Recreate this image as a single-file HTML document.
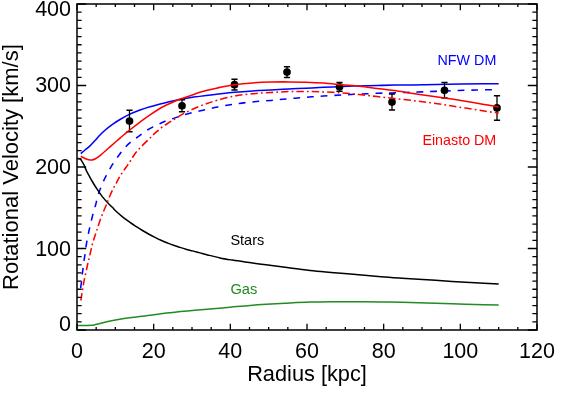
<!DOCTYPE html>
<html><head><meta charset="utf-8"><title>Rotation curve</title>
<style>html,body{margin:0;padding:0;background:#fff}svg{display:block}text{font-family:"Liberation Sans",Arial,Helvetica,sans-serif;}</style></head>
<body>
<svg width="568" height="394" viewBox="0 0 568 394">
<rect width="568" height="394" fill="#fff"/>
<g fill="none" stroke-linecap="butt" stroke-linejoin="round">
<path d="M80.60 288.10 C80.75 287.07 81.22 284.18 81.50 281.90 C81.78 279.62 81.98 276.70 82.25 274.40 C82.52 272.10 82.81 270.40 83.10 268.10 C83.39 265.80 83.68 262.88 84.00 260.60 C84.32 258.32 84.70 256.48 85.00 254.40 C85.30 252.32 85.48 250.29 85.80 248.10 C86.12 245.91 86.41 243.95 86.90 241.25 C87.39 238.55 88.13 234.82 88.75 231.90 C89.37 228.98 89.88 226.78 90.60 223.75 C91.32 220.72 92.27 216.88 93.10 213.75 C93.93 210.62 95.00 207.19 95.60 205.00 C96.20 202.81 96.17 202.58 96.70 200.60 C97.23 198.62 98.10 195.18 98.75 193.10 C99.40 191.02 99.77 190.18 100.60 188.10 C101.43 186.02 102.81 182.68 103.75 180.60 C104.69 178.52 105.21 177.57 106.25 175.60 C107.29 173.62 108.86 170.77 110.00 168.75 C111.14 166.73 111.43 166.00 113.10 163.50 C114.77 161.00 117.81 156.62 120.00 153.75 C122.19 150.88 124.38 148.28 126.25 146.25 C128.12 144.22 129.58 142.97 131.25 141.60 C132.92 140.22 134.58 139.20 136.25 138.00 C137.92 136.80 139.38 135.73 141.25 134.40 C143.12 133.07 145.53 131.25 147.50 130.00 C149.47 128.75 151.02 127.97 153.10 126.90 C155.18 125.83 158.02 124.53 160.00 123.60 C161.98 122.67 162.92 122.11 165.00 121.30 C167.08 120.49 169.65 119.73 172.50 118.75 C175.35 117.77 178.56 116.48 182.10 115.40 C185.64 114.32 189.72 113.25 193.75 112.25 C197.78 111.25 202.29 110.28 206.25 109.40 C210.21 108.53 212.78 107.90 217.50 107.00 C222.22 106.10 228.77 104.85 234.60 104.00 C240.43 103.15 246.43 102.50 252.50 101.90 C258.57 101.30 265.00 100.93 271.00 100.40 C277.00 99.88 282.67 99.28 288.50 98.75 C294.33 98.22 300.17 97.71 306.00 97.25 C311.83 96.79 317.50 96.38 323.50 96.00 C329.50 95.62 336.00 95.32 342.00 95.00 C348.00 94.68 353.50 94.39 359.50 94.10 C365.50 93.81 372.58 93.45 378.00 93.25 C383.42 93.05 387.33 93.03 392.00 92.90 C396.67 92.78 401.83 92.63 406.00 92.50 C410.17 92.37 410.00 92.37 417.00 92.10 C424.00 91.83 438.25 91.25 448.00 90.90 C457.75 90.55 467.05 90.22 475.50 90.00 C483.95 89.78 494.83 89.67 498.70 89.60" stroke="#0000ff" stroke-width="1.55" stroke-dasharray="6.8 6.9"/>
<path d="M80.80 153.60 C81.50 153.00 83.47 151.28 85.00 150.00 C86.53 148.72 88.33 147.47 90.00 145.90 C91.67 144.33 93.33 142.42 95.00 140.60 C96.67 138.78 98.33 136.72 100.00 135.00 C101.67 133.28 102.92 132.02 105.00 130.25 C107.08 128.48 110.00 126.19 112.50 124.40 C115.00 122.61 117.18 121.17 120.00 119.50 C122.82 117.83 126.07 115.98 129.40 114.40 C132.73 112.82 136.57 111.28 140.00 110.00 C143.43 108.72 146.25 107.80 150.00 106.70 C153.75 105.60 158.33 104.45 162.50 103.40 C166.67 102.35 171.73 101.13 175.00 100.40 C178.27 99.67 178.97 99.55 182.10 99.00 C185.22 98.45 189.72 97.70 193.75 97.10 C197.78 96.50 202.29 95.90 206.25 95.40 C210.21 94.90 212.78 94.62 217.50 94.10 C222.22 93.57 228.77 92.78 234.60 92.25 C240.43 91.72 246.43 91.29 252.50 90.90 C258.57 90.51 265.00 90.22 271.00 89.90 C277.00 89.58 282.67 89.28 288.50 89.00 C294.33 88.72 300.17 88.48 306.00 88.20 C311.83 87.92 317.50 87.62 323.50 87.35 C329.50 87.08 336.00 86.84 342.00 86.60 C348.00 86.36 353.67 86.08 359.50 85.90 C365.33 85.72 371.17 85.63 377.00 85.50 C382.83 85.37 388.50 85.20 394.50 85.10 C400.50 85.00 404.08 85.05 413.00 84.90 C421.92 84.75 436.17 84.38 448.00 84.20 C459.83 84.02 475.55 83.88 484.00 83.80 C492.45 83.72 496.25 83.72 498.70 83.70" stroke="#0000ff" stroke-width="1.55"/>
</g>
<g stroke="#000" fill="#000">
<path d="M129.50 110.30V131.80" stroke-width="1.3" fill="none"/>
<path d="M126.40 110.30H132.60M126.40 131.80H132.60" stroke-width="1.5" fill="none"/>
<circle cx="129.50" cy="121.05" r="3.85" stroke="none"/>
<path d="M182.00 99.75V111.80" stroke-width="1.3" fill="none"/>
<path d="M178.90 99.75H185.10M178.90 111.80H185.10" stroke-width="1.5" fill="none"/>
<circle cx="182.00" cy="105.80" r="3.85" stroke="none"/>
<path d="M234.50 79.20V89.95" stroke-width="1.3" fill="none"/>
<path d="M231.40 79.20H237.60M231.40 89.95H237.60" stroke-width="1.5" fill="none"/>
<circle cx="234.50" cy="84.65" r="3.85" stroke="none"/>
<path d="M287.00 66.80V77.40" stroke-width="1.3" fill="none"/>
<path d="M283.90 66.80H290.10M283.90 77.40H290.10" stroke-width="1.5" fill="none"/>
<circle cx="287.00" cy="72.10" r="3.85" stroke="none"/>
<path d="M339.50 82.40V91.30" stroke-width="1.3" fill="none"/>
<path d="M336.40 82.40H342.60M336.40 91.30H342.60" stroke-width="1.5" fill="none"/>
<circle cx="339.50" cy="86.85" r="3.85" stroke="none"/>
<path d="M392.00 94.00V110.00" stroke-width="1.3" fill="none"/>
<path d="M388.90 94.00H395.10M388.90 110.00H395.10" stroke-width="1.5" fill="none"/>
<circle cx="392.00" cy="102.10" r="3.85" stroke="none"/>
<path d="M444.50 82.50V97.90" stroke-width="1.3" fill="none"/>
<path d="M441.40 82.50H447.60M441.40 97.90H447.60" stroke-width="1.5" fill="none"/>
<circle cx="444.50" cy="90.30" r="3.85" stroke="none"/>
<path d="M497.00 95.70V120.20" stroke-width="1.3" fill="none"/>
<path d="M493.90 95.70H500.10M493.90 120.20H500.10" stroke-width="1.5" fill="none"/>
<circle cx="497.00" cy="107.90" r="3.85" stroke="none"/>
</g>
<g fill="none" stroke-linecap="butt" stroke-linejoin="round">
<path d="M78.00 158.30 C78.35 158.40 79.43 158.40 80.10 158.90 C80.77 159.40 81.33 160.25 82.00 161.30 C82.67 162.35 83.37 163.53 84.15 165.20 C84.93 166.87 85.86 169.52 86.70 171.30 C87.54 173.08 88.27 174.20 89.20 175.90 C90.13 177.60 90.93 179.20 92.30 181.50 C93.67 183.80 95.70 187.13 97.40 189.70 C99.10 192.27 100.82 194.77 102.50 196.90 C104.18 199.03 105.73 200.63 107.50 202.50 C109.27 204.37 111.85 206.80 113.10 208.10 C114.35 209.40 113.43 208.83 115.00 210.30 C116.57 211.77 120.00 214.88 122.50 216.90 C125.00 218.92 127.75 220.82 130.00 222.40 C132.25 223.98 133.92 225.05 136.00 226.40 C138.08 227.75 140.42 229.23 142.50 230.50 C144.58 231.77 146.42 232.85 148.50 234.00 C150.58 235.15 152.92 236.35 155.00 237.40 C157.08 238.45 158.92 239.37 161.00 240.30 C163.08 241.23 165.42 242.17 167.50 243.00 C169.58 243.83 171.42 244.57 173.50 245.30 C175.58 246.03 177.92 246.75 180.00 247.40 C182.08 248.05 183.92 248.62 186.00 249.20 C188.08 249.78 190.17 250.28 192.50 250.90 C194.83 251.52 197.50 252.23 200.00 252.90 C202.50 253.57 204.17 254.07 207.50 254.90 C210.83 255.73 215.83 257.03 220.00 257.90 C224.17 258.77 228.33 259.42 232.50 260.10 C236.67 260.78 240.83 261.39 245.00 262.00 C249.17 262.61 254.00 263.28 257.50 263.75 C261.00 264.22 261.42 264.21 266.00 264.80 C270.58 265.39 277.67 266.37 285.00 267.30 C292.33 268.23 302.33 269.55 310.00 270.40 C317.67 271.25 323.33 271.70 331.00 272.40 C338.67 273.10 347.67 273.88 356.00 274.60 C364.33 275.33 373.33 276.15 381.00 276.75 C388.67 277.35 394.33 277.70 402.00 278.20 C409.67 278.70 418.67 279.22 427.00 279.75 C435.33 280.28 444.00 280.90 452.00 281.40 C460.00 281.90 467.22 282.32 475.00 282.75 C482.78 283.18 494.75 283.79 498.70 284.00" stroke="#000" stroke-width="1.5"/>
<path d="M77.10 325.40 C78.42 325.40 82.60 325.41 85.00 325.40 C87.40 325.39 89.92 325.43 91.50 325.35 C93.08 325.27 93.25 325.17 94.50 324.90 C95.75 324.63 97.25 324.18 99.00 323.75 C100.75 323.32 102.92 322.80 105.00 322.30 C107.08 321.80 108.33 321.38 111.50 320.75 C114.67 320.12 119.83 319.14 124.00 318.50 C128.17 317.86 133.00 317.33 136.50 316.90 C140.00 316.47 139.42 316.59 145.00 315.90 C150.58 315.21 161.67 313.68 170.00 312.75 C178.33 311.82 185.83 311.13 195.00 310.30 C204.17 309.47 215.83 308.57 225.00 307.75 C234.17 306.93 242.33 306.04 250.00 305.40 C257.67 304.76 265.17 304.27 271.00 303.90 C276.83 303.53 278.50 303.50 285.00 303.20 C291.50 302.90 302.33 302.35 310.00 302.10 C317.67 301.85 323.33 301.76 331.00 301.70 C338.67 301.64 347.67 301.70 356.00 301.75 C364.33 301.80 373.33 301.93 381.00 302.00 C388.67 302.07 394.33 302.05 402.00 302.20 C409.67 302.35 418.67 302.65 427.00 302.90 C435.33 303.15 444.00 303.44 452.00 303.70 C460.00 303.96 467.22 304.22 475.00 304.45 C482.78 304.68 494.75 304.99 498.70 305.10" stroke="#228B22" stroke-width="1.5"/>
<path d="M80.80 300.50 C80.88 300.10 80.97 299.85 81.25 298.10 C81.53 296.35 82.08 292.60 82.50 290.00 C82.92 287.40 83.23 285.21 83.75 282.50 C84.27 279.79 84.97 276.67 85.60 273.75 C86.22 270.83 86.88 267.71 87.50 265.00 C88.12 262.29 88.72 260.00 89.30 257.50 C89.88 255.00 90.55 251.98 91.00 250.00 C91.45 248.02 91.43 247.68 92.00 245.60 C92.57 243.52 93.58 240.10 94.40 237.50 C95.22 234.90 95.97 232.82 96.90 230.00 C97.83 227.18 98.97 223.52 100.00 220.60 C101.03 217.68 102.06 215.10 103.10 212.50 C104.14 209.90 105.52 206.77 106.25 205.00 C106.98 203.23 106.92 203.36 107.50 201.90 C108.08 200.44 108.82 198.44 109.75 196.25 C110.68 194.06 112.02 190.94 113.10 188.75 C114.18 186.56 115.10 185.18 116.25 183.10 C117.40 181.02 118.75 178.33 120.00 176.25 C121.25 174.17 122.40 172.57 123.75 170.60 C125.10 168.62 126.89 166.17 128.10 164.40 C129.31 162.63 129.85 161.77 131.00 160.00 C132.15 158.23 133.33 155.98 135.00 153.80 C136.67 151.62 138.40 149.62 141.00 146.90 C143.60 144.18 148.27 139.80 150.60 137.50 C152.93 135.20 153.64 134.35 155.00 133.10 C156.36 131.85 157.50 131.03 158.75 130.00 C160.00 128.97 161.04 127.98 162.50 126.90 C163.96 125.82 165.83 124.58 167.50 123.50 C169.17 122.42 171.08 121.27 172.50 120.40 C173.92 119.53 174.40 119.30 176.00 118.30 C177.60 117.30 179.14 115.99 182.10 114.40 C185.06 112.81 189.72 110.53 193.75 108.75 C197.78 106.97 202.29 105.17 206.25 103.75 C210.21 102.33 212.78 101.49 217.50 100.20 C222.22 98.91 228.77 97.08 234.60 96.00 C240.43 94.92 246.43 94.33 252.50 93.75 C258.57 93.17 265.00 92.86 271.00 92.50 C277.00 92.14 282.67 91.77 288.50 91.60 C294.33 91.43 300.17 91.45 306.00 91.50 C311.83 91.55 317.50 91.67 323.50 91.90 C329.50 92.13 336.00 92.45 342.00 92.90 C348.00 93.35 353.67 93.98 359.50 94.60 C365.33 95.22 371.17 95.95 377.00 96.60 C382.83 97.25 388.50 97.83 394.50 98.50 C400.50 99.17 407.00 99.89 413.00 100.60 C419.00 101.31 424.67 101.95 430.50 102.75 C436.33 103.55 442.17 104.51 448.00 105.40 C453.83 106.29 459.50 107.17 465.50 108.10 C471.50 109.03 478.47 110.17 484.00 111.00 C489.53 111.83 496.25 112.75 498.70 113.10" stroke="#ff0000" stroke-width="1.55" stroke-dasharray="7.4 3.1 1.75 3.1" stroke-dashoffset="0"/>
<path d="M80.80 156.25 C81.50 156.62 83.67 157.92 85.00 158.50 C86.33 159.08 87.60 159.50 88.75 159.75 C89.90 160.00 90.86 160.12 91.90 160.00 C92.94 159.88 93.65 159.73 95.00 159.00 C96.35 158.27 98.33 156.89 100.00 155.60 C101.67 154.31 103.33 152.70 105.00 151.25 C106.67 149.80 108.33 148.36 110.00 146.90 C111.67 145.44 113.33 143.97 115.00 142.50 C116.67 141.03 118.33 139.53 120.00 138.10 C121.67 136.67 123.43 135.21 125.00 133.90 C126.57 132.59 126.90 132.22 129.40 130.25 C131.90 128.28 136.57 124.66 140.00 122.10 C143.43 119.54 146.25 117.42 150.00 114.90 C153.75 112.38 158.33 109.28 162.50 107.00 C166.67 104.72 171.73 102.63 175.00 101.20 C178.27 99.77 178.97 99.53 182.10 98.40 C185.22 97.27 189.72 95.70 193.75 94.40 C197.78 93.10 202.29 91.68 206.25 90.60 C210.21 89.52 212.78 88.88 217.50 87.90 C222.22 86.93 228.77 85.58 234.60 84.75 C240.43 83.92 246.43 83.35 252.50 82.90 C258.57 82.45 265.00 82.22 271.00 82.05 C277.00 81.88 282.67 81.87 288.50 81.90 C294.33 81.93 300.17 82.05 306.00 82.25 C311.83 82.45 317.50 82.68 323.50 83.10 C329.50 83.52 336.00 84.22 342.00 84.75 C348.00 85.28 353.67 85.64 359.50 86.25 C365.33 86.86 371.17 87.68 377.00 88.40 C382.83 89.12 388.50 89.75 394.50 90.60 C400.50 91.45 407.00 92.60 413.00 93.50 C419.00 94.40 424.67 95.17 430.50 96.00 C436.33 96.83 442.17 97.62 448.00 98.50 C453.83 99.38 459.50 100.27 465.50 101.25 C471.50 102.23 478.47 103.43 484.00 104.40 C489.53 105.38 496.25 106.65 498.70 107.10" stroke="#ff0000" stroke-width="1.55"/>
</g>
<path d="M77.00 330.00v-6.20M77.00 4.00v6.20M96.17 330.00v-3.10M96.17 4.00v3.10M115.33 330.00v-3.10M115.33 4.00v3.10M134.50 330.00v-3.10M134.50 4.00v3.10M153.67 330.00v-6.20M153.67 4.00v6.20M172.83 330.00v-3.10M172.83 4.00v3.10M192.00 330.00v-3.10M192.00 4.00v3.10M211.17 330.00v-3.10M211.17 4.00v3.10M230.33 330.00v-6.20M230.33 4.00v6.20M249.50 330.00v-3.10M249.50 4.00v3.10M268.67 330.00v-3.10M268.67 4.00v3.10M287.83 330.00v-3.10M287.83 4.00v3.10M307.00 330.00v-6.20M307.00 4.00v6.20M326.17 330.00v-3.10M326.17 4.00v3.10M345.33 330.00v-3.10M345.33 4.00v3.10M364.50 330.00v-3.10M364.50 4.00v3.10M383.67 330.00v-6.20M383.67 4.00v6.20M402.83 330.00v-3.10M402.83 4.00v3.10M422.00 330.00v-3.10M422.00 4.00v3.10M441.17 330.00v-3.10M441.17 4.00v3.10M460.33 330.00v-6.20M460.33 4.00v6.20M479.50 330.00v-3.10M479.50 4.00v3.10M498.67 330.00v-3.10M498.67 4.00v3.10M517.83 330.00v-3.10M517.83 4.00v3.10M537.00 330.00v-6.20M537.00 4.00v6.20M77.00 330.00h9.20M537.00 330.00h-9.20M77.00 321.85h4.60M537.00 321.85h-4.60M77.00 313.70h4.60M537.00 313.70h-4.60M77.00 305.55h4.60M537.00 305.55h-4.60M77.00 297.40h4.60M537.00 297.40h-4.60M77.00 289.25h4.60M537.00 289.25h-4.60M77.00 281.10h4.60M537.00 281.10h-4.60M77.00 272.95h4.60M537.00 272.95h-4.60M77.00 264.80h4.60M537.00 264.80h-4.60M77.00 256.65h4.60M537.00 256.65h-4.60M77.00 248.50h9.20M537.00 248.50h-9.20M77.00 240.35h4.60M537.00 240.35h-4.60M77.00 232.20h4.60M537.00 232.20h-4.60M77.00 224.05h4.60M537.00 224.05h-4.60M77.00 215.90h4.60M537.00 215.90h-4.60M77.00 207.75h4.60M537.00 207.75h-4.60M77.00 199.60h4.60M537.00 199.60h-4.60M77.00 191.45h4.60M537.00 191.45h-4.60M77.00 183.30h4.60M537.00 183.30h-4.60M77.00 175.15h4.60M537.00 175.15h-4.60M77.00 167.00h9.20M537.00 167.00h-9.20M77.00 158.85h4.60M537.00 158.85h-4.60M77.00 150.70h4.60M537.00 150.70h-4.60M77.00 142.55h4.60M537.00 142.55h-4.60M77.00 134.40h4.60M537.00 134.40h-4.60M77.00 126.25h4.60M537.00 126.25h-4.60M77.00 118.10h4.60M537.00 118.10h-4.60M77.00 109.95h4.60M537.00 109.95h-4.60M77.00 101.80h4.60M537.00 101.80h-4.60M77.00 93.65h4.60M537.00 93.65h-4.60M77.00 85.50h9.20M537.00 85.50h-9.20M77.00 77.35h4.60M537.00 77.35h-4.60M77.00 69.20h4.60M537.00 69.20h-4.60M77.00 61.05h4.60M537.00 61.05h-4.60M77.00 52.90h4.60M537.00 52.90h-4.60M77.00 44.75h4.60M537.00 44.75h-4.60M77.00 36.60h4.60M537.00 36.60h-4.60M77.00 28.45h4.60M537.00 28.45h-4.60M77.00 20.30h4.60M537.00 20.30h-4.60M77.00 12.15h4.60M537.00 12.15h-4.60M77.00 4.00h9.20M537.00 4.00h-9.20" stroke="#000" stroke-width="1.3" fill="none"/>
<rect x="77.00" y="4.00" width="460.00" height="326.00" fill="none" stroke="#000" stroke-width="1.50"/>
<g font-size="21.50" fill="#000">
<text x="77.00" y="357.6" text-anchor="middle">0</text>
<text x="153.67" y="357.6" text-anchor="middle">20</text>
<text x="230.33" y="357.6" text-anchor="middle">40</text>
<text x="307.00" y="357.6" text-anchor="middle">60</text>
<text x="383.67" y="357.6" text-anchor="middle">80</text>
<text x="460.33" y="357.6" text-anchor="middle">100</text>
<text x="537.00" y="357.6" text-anchor="middle">120</text>
<text x="71" y="15.80" text-anchor="end">400</text>
<text x="71" y="92.40" text-anchor="end">300</text>
<text x="71" y="173.90" text-anchor="end">200</text>
<text x="71" y="255.50" text-anchor="end">100</text>
<text x="71" y="331.30" text-anchor="end">0</text>
<text x="307" y="380.5" text-anchor="middle" font-size="21.75">Radius [kpc]</text>
<text transform="translate(18.4 167.1) rotate(-90)" text-anchor="middle" font-size="22">Rotational Velocity [km/s]</text>
</g>
<g font-size="14.50">
<text x="496.3" y="64.8" text-anchor="end" fill="#0000ff" font-size="14.3">NFW DM</text>
<text x="496.3" y="144.8" text-anchor="end" fill="#ff0000" font-size="14.3">Einasto DM</text>
<text x="230.4" y="245.2" fill="#000">Stars</text>
<text x="230.4" y="293.6" fill="#228B22" font-size="14.7">Gas</text>
</g>
</svg>
</body></html>
